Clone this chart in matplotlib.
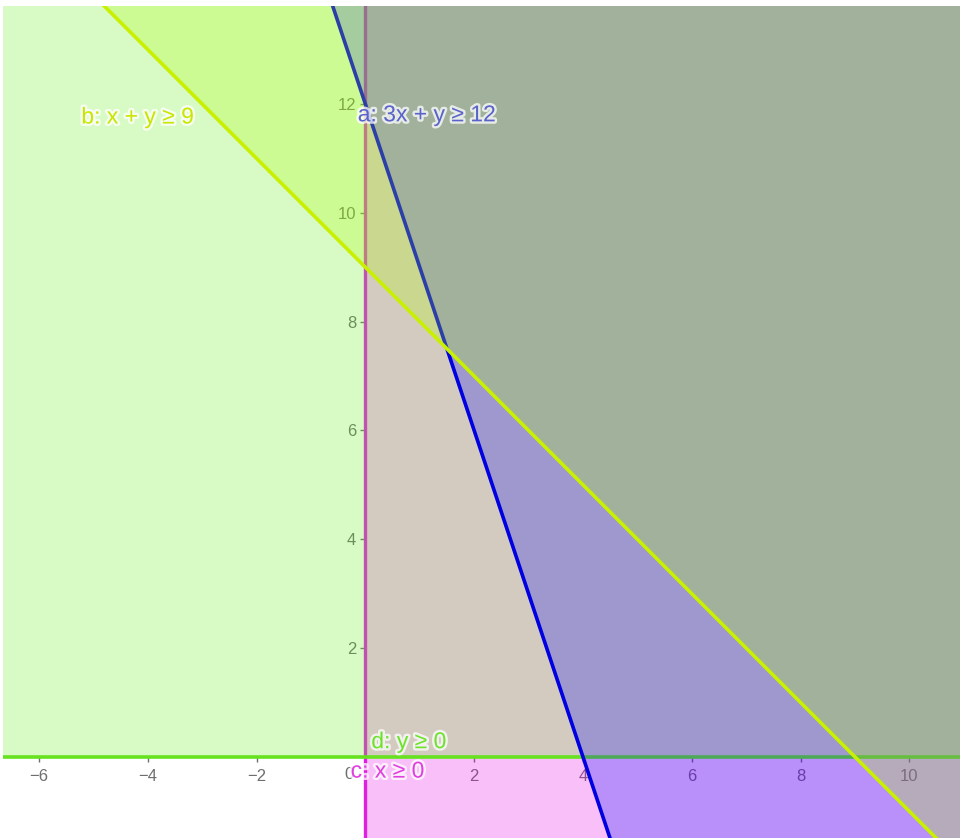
import numpy as np
import matplotlib

matplotlib.use("Agg")

import matplotlib.pyplot as plt
import matplotlib.patheffects as pe


# inequalities: COEF_X * x + COEF_Y * y >= RHS
NAMES = ["a", "b", "c", "d"]
COEF_X = [3, 1, 1, 0]
COEF_Y = [1, 1, 0, 1]
RHS = [12, 9, 0, 0]
LABELS = ["a: 3x + y ≥ 12", "b: x + y ≥ 9", "c: x ≥ 0", "d: y ≥ 0"]

X_TICKS = [-6, -4, -2, 2, 4, 6, 8, 10]
Y_TICKS = [2, 4, 6, 8, 10, 12]

XLIM = (-6.66, 10.93)
YLIM = (-1.49, 13.80)

# styling (GeoGebra look)
FILL = {"a": "#0000ff", "b": "#b0ff00", "c": "#e600e6", "d": "#67ef1b"}
LINE = {"a": "#0000e0", "b": "#c8f000", "c": "#e020e0", "d": "#66e21e"}
TEXT = {"a": "#5a64c8", "b": "#c8e600", "c": "#e040e0", "d": "#6ee22a"}
LABEL_POS = {"a": (-0.14, 11.8), "b": (-5.22, 11.76), "c": (-0.27, -0.26), "d": (0.11, 0.28)}
DRAW_ORDER = ["c", "d", "a", "b"]
TICK_GREY = "#6e6e6e"

plt.rcParams["font.family"] = ["Liberation Sans", "DejaVu Sans"]

fig = plt.figure(figsize=(9.6, 8.38), dpi=100)
ax = fig.add_axes([3 / 960, 0, 957 / 960, 832 / 838])
ax.set_xlim(*XLIM)
ax.set_ylim(*YLIM)

xs = np.linspace(-30, 30, 601)
BIG = 1000

for k, name in enumerate(DRAW_ORDER):
    i = NAMES.index(name)
    p, q, r = COEF_X[i], COEF_Y[i], RHS[i]
    z = 1 + k
    if q == 0:
        x0 = r / p
        if p > 0:
            ax.axvspan(x0, BIG, color=FILL[name], alpha=0.25, lw=0, zorder=z)
        else:
            ax.axvspan(-BIG, x0, color=FILL[name], alpha=0.25, lw=0, zorder=z)
        ax.axvline(x0, color=LINE[name], lw=2.4, zorder=z + 0.5)
    else:
        yb = (r - p * xs) / q
        if q > 0:
            ax.fill_between(xs, yb, BIG, color=FILL[name], alpha=0.25, lw=0, zorder=z)
        else:
            ax.fill_between(xs, -BIG, yb, color=FILL[name], alpha=0.25, lw=0, zorder=z)
        ax.plot(xs, yb, color=LINE[name], lw=2.6, zorder=z + 0.5, solid_capstyle="butt")

for i, name in enumerate(NAMES):
    x, y = LABEL_POS[name]
    ax.text(x, y, LABELS[i], fontsize=16.5, color=TEXT[name], ha="left", va="center", zorder=10,
            path_effects=[pe.withStroke(linewidth=3.5, foreground="white", alpha=0.75)])

# axes through the origin, drawn underneath the shading
for s in ax.spines.values():
    s.set_visible(False)
ax.spines["bottom"].set_position(("data", 0))
ax.spines["left"].set_position(("data", 0))
ax.set_axisbelow(True)
ax.set_xticks(X_TICKS)
ax.set_yticks(Y_TICKS)
ax.set_xticklabels([f"{t}".replace("-", "\u2212") for t in X_TICKS])
ax.set_yticklabels([str(t) for t in Y_TICKS])
ax.tick_params(axis="both", direction="out", length=3.5, width=1, colors=TICK_GREY, labelsize=12)
ax.tick_params(axis="x", pad=5)
ax.tick_params(axis="y", pad=3)
# origin label, mostly hidden behind the c label as in GeoGebra
ax.text(-0.3, -0.33, "0", fontsize=12, color=TICK_GREY, ha="center", va="center", zorder=0.5)

fig.savefig("out.png", dpi=100, facecolor="white")
